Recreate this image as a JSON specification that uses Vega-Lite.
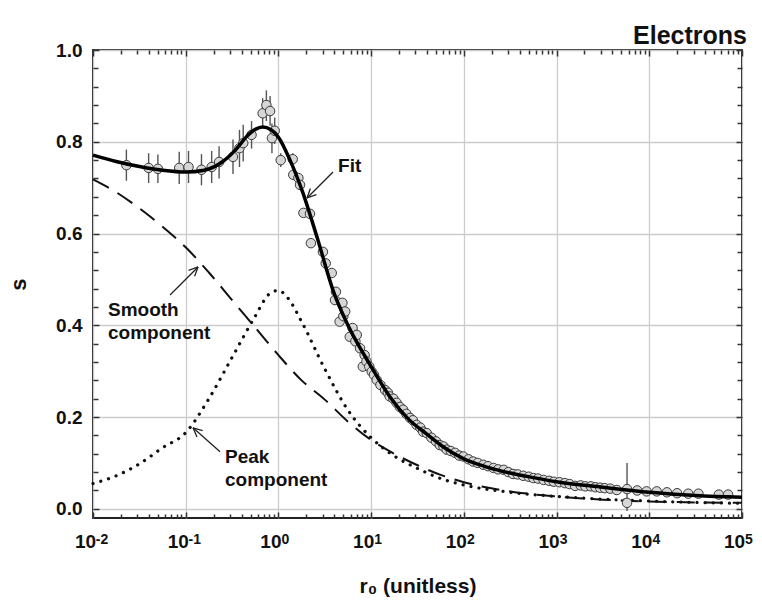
{
  "$schema": "https://vega.github.io/schema/vega-lite/v6.json",
  "width": 649,
  "height": 468,
  "autosize": {"type": "none"},
  "padding": {"left": 93, "top": 50, "right": 20, "bottom": 85},
  "background": "white",
  "title": {"text": "Electrons", "anchor": "end", "frame": "group", "orient": "top", "fontSize": 25, "fontWeight": "bold", "font": "Liberation Sans", "color": "#111", "baseline": "alphabetic", "offset": 7, "dx": 5, "dy": 35},
  "config": {
    "font": "Liberation Sans",
    "view": {"stroke": "#222", "strokeWidth": 2},
    "axis": {"domain": false, "labelFont": "Liberation Sans", "labelFontSize": 19, "labelFontWeight": "bold", "labelColor": "#111", "tickColor": "#333", "tickWidth": 1.5, "gridColor": "#cccccc", "gridWidth": 1.3, "titleFont": "Liberation Sans", "titleFontWeight": "bold", "titleColor": "#111"}
  },
  "datasets": {
    "fit": [
      {"r": 0.01, "s": 0.771}, {"r": 0.01778, "s": 0.757}, {"r": 0.03162, "s": 0.746}, {"r": 0.05623, "s": 0.738},
      {"r": 0.1, "s": 0.734}, {"r": 0.1585, "s": 0.738}, {"r": 0.2512, "s": 0.757}, {"r": 0.3548, "s": 0.785},
      {"r": 0.4571, "s": 0.812}, {"r": 0.5623, "s": 0.827}, {"r": 0.6761, "s": 0.832}, {"r": 0.8318, "s": 0.826},
      {"r": 1, "s": 0.81}, {"r": 1.334, "s": 0.76}, {"r": 1.841, "s": 0.688}, {"r": 2.6, "s": 0.593},
      {"r": 3.981, "s": 0.47}, {"r": 5.623, "s": 0.4}, {"r": 10, "s": 0.31}, {"r": 15.85, "s": 0.245},
      {"r": 25.12, "s": 0.196}, {"r": 39.81, "s": 0.163}, {"r": 63.1, "s": 0.132}, {"r": 100, "s": 0.109},
      {"r": 177.8, "s": 0.091}, {"r": 316.2, "s": 0.078}, {"r": 562.3, "s": 0.068}, {"r": 1000, "s": 0.059},
      {"r": 3162, "s": 0.047}, {"r": 10000, "s": 0.036}, {"r": 31623, "s": 0.029}, {"r": 100000, "s": 0.025}
    ],
    "smooth": [
      {"r": 0.01, "s": 0.718}, {"r": 0.01778, "s": 0.69}, {"r": 0.03162, "s": 0.655}, {"r": 0.05623, "s": 0.615},
      {"r": 0.1, "s": 0.57}, {"r": 0.1778, "s": 0.515}, {"r": 0.3162, "s": 0.455}, {"r": 0.5623, "s": 0.395},
      {"r": 1, "s": 0.335}, {"r": 1.778, "s": 0.28}, {"r": 3.162, "s": 0.238}, {"r": 5.623, "s": 0.19},
      {"r": 10, "s": 0.15}, {"r": 17.78, "s": 0.12}, {"r": 31.62, "s": 0.095}, {"r": 56.23, "s": 0.074},
      {"r": 100, "s": 0.058}, {"r": 316.2, "s": 0.038}, {"r": 1000, "s": 0.027}, {"r": 3162, "s": 0.02},
      {"r": 10000, "s": 0.016}, {"r": 31623, "s": 0.014}, {"r": 100000, "s": 0.013}
    ],
    "peak": [
      {"r": 0.01, "s": 0.055}, {"r": 0.01778, "s": 0.072}, {"r": 0.03162, "s": 0.098}, {"r": 0.05623, "s": 0.133},
      {"r": 0.1, "s": 0.166}, {"r": 0.1778, "s": 0.24}, {"r": 0.3162, "s": 0.33}, {"r": 0.5623, "s": 0.42},
      {"r": 0.7943, "s": 0.468}, {"r": 1, "s": 0.476}, {"r": 1.259, "s": 0.46}, {"r": 1.778, "s": 0.408},
      {"r": 3.162, "s": 0.305}, {"r": 5.623, "s": 0.215}, {"r": 10, "s": 0.155}, {"r": 17.78, "s": 0.115},
      {"r": 31.62, "s": 0.088}, {"r": 56.23, "s": 0.066}, {"r": 100, "s": 0.052}, {"r": 316.2, "s": 0.036},
      {"r": 1000, "s": 0.027}, {"r": 3162, "s": 0.021}, {"r": 10000, "s": 0.017}, {"r": 31623, "s": 0.014},
      {"r": 100000, "s": 0.012}
    ],
    "obs": [
      {"r": 0.02291, "s": 0.749}, {"r": 0.03981, "s": 0.743}, {"r": 0.05012, "s": 0.741}, {"r": 0.08511, "s": 0.743},
      {"r": 0.1072, "s": 0.745}, {"r": 0.1479, "s": 0.739}, {"r": 0.1905, "s": 0.745}, {"r": 0.2291, "s": 0.756},
      {"r": 0.3236, "s": 0.767}, {"r": 0.3802, "s": 0.786}, {"r": 0.4169, "s": 0.797}, {"r": 0.5129, "s": 0.815},
      {"r": 0.6761, "s": 0.862}, {"r": 0.7413, "s": 0.88}, {"r": 0.8128, "s": 0.867}, {"r": 0.8511, "s": 0.808},
      {"r": 0.912, "s": 0.824}, {"r": 1.059, "s": 0.76}, {"r": 1.426, "s": 0.762}, {"r": 1.445, "s": 0.728},
      {"r": 1.641, "s": 0.721}, {"r": 1.71, "s": 0.706}, {"r": 1.862, "s": 0.645}, {"r": 2.188, "s": 0.643},
      {"r": 2.239, "s": 0.579}, {"r": 3.02, "s": 0.56}, {"r": 3.236, "s": 0.535}, {"r": 3.758, "s": 0.514},
      {"r": 4.074, "s": 0.455}, {"r": 4.169, "s": 0.473}, {"r": 4.571, "s": 0.408}, {"r": 4.898, "s": 0.449},
      {"r": 5.012, "s": 0.42}, {"r": 5.248, "s": 0.43}, {"r": 5.888, "s": 0.375}, {"r": 6.31, "s": 0.394},
      {"r": 6.761, "s": 0.365}, {"r": 6.998, "s": 0.379}, {"r": 7.586, "s": 0.35}, {"r": 8.128, "s": 0.31},
      {"r": 8.511, "s": 0.335}, {"r": 8.913, "s": 0.321}, {"r": 9.55, "s": 0.31}, {"r": 10.14, "s": 0.299},
      {"r": 10.72, "s": 0.292}, {"r": 11.48, "s": 0.281}, {"r": 12.59, "s": 0.27}, {"r": 14.13, "s": 0.259},
      {"r": 15.14, "s": 0.253}, {"r": 15.85, "s": 0.245}, {"r": 17.38, "s": 0.24}, {"r": 18.84, "s": 0.231},
      {"r": 20.42, "s": 0.222}, {"r": 22.13, "s": 0.216}, {"r": 23.99, "s": 0.207}, {"r": 26.3, "s": 0.198},
      {"r": 28.18, "s": 0.193}, {"r": 30.9, "s": 0.183}, {"r": 33.88, "s": 0.177}, {"r": 36.31, "s": 0.168},
      {"r": 39.81, "s": 0.165}, {"r": 44.67, "s": 0.155}, {"r": 50.12, "s": 0.147}, {"r": 54.95, "s": 0.139},
      {"r": 60.26, "s": 0.136}, {"r": 65.31, "s": 0.129}, {"r": 72.44, "s": 0.126}, {"r": 80.35, "s": 0.122},
      {"r": 89.13, "s": 0.116}, {"r": 98.86, "s": 0.114}, {"r": 112.2, "s": 0.108}, {"r": 125.9, "s": 0.103},
      {"r": 141.3, "s": 0.1}, {"r": 162.2, "s": 0.096}, {"r": 182, "s": 0.093}, {"r": 208.9, "s": 0.089},
      {"r": 234.4, "s": 0.086}, {"r": 269.2, "s": 0.085}, {"r": 302, "s": 0.08}, {"r": 338.8, "s": 0.076},
      {"r": 380.2, "s": 0.075}, {"r": 436.5, "s": 0.072}, {"r": 501.2, "s": 0.07}, {"r": 562.3, "s": 0.067},
      {"r": 631, "s": 0.066}, {"r": 724.4, "s": 0.063}, {"r": 831.8, "s": 0.061}, {"r": 933.3, "s": 0.059},
      {"r": 1072, "s": 0.058}, {"r": 1230, "s": 0.056}, {"r": 1380, "s": 0.054}, {"r": 1585, "s": 0.05},
      {"r": 1820, "s": 0.051}, {"r": 2042, "s": 0.049}, {"r": 2344, "s": 0.049}, {"r": 2630, "s": 0.047},
      {"r": 2951, "s": 0.046}, {"r": 3311, "s": 0.045}, {"r": 3802, "s": 0.044}, {"r": 4467, "s": 0.041},
      {"r": 5754, "s": 0.043}, {"r": 5754, "s": 0.013}, {"r": 7413, "s": 0.04}, {"r": 9333, "s": 0.038},
      {"r": 12023, "s": 0.038}, {"r": 15488, "s": 0.036}, {"r": 19953, "s": 0.034}, {"r": 26303, "s": 0.033},
      {"r": 33884, "s": 0.033}, {"r": 56234, "s": 0.031}, {"r": 70795, "s": 0.031}
    ],
    "err": [
      {"r": 0.02291, "lo": 0.715, "hi": 0.783}, {"r": 0.03981, "lo": 0.71, "hi": 0.775}, {"r": 0.05012, "lo": 0.71, "hi": 0.772},
      {"r": 0.08511, "lo": 0.708, "hi": 0.778}, {"r": 0.1072, "lo": 0.71, "hi": 0.78}, {"r": 0.1479, "lo": 0.705, "hi": 0.773},
      {"r": 0.1905, "lo": 0.71, "hi": 0.78}, {"r": 0.2291, "lo": 0.72, "hi": 0.79}, {"r": 0.3236, "lo": 0.73, "hi": 0.805},
      {"r": 0.3802, "lo": 0.745, "hi": 0.826}, {"r": 0.4169, "lo": 0.757, "hi": 0.837}, {"r": 0.5129, "lo": 0.785, "hi": 0.845},
      {"r": 0.6761, "lo": 0.83, "hi": 0.895}, {"r": 0.7413, "lo": 0.845, "hi": 0.912}, {"r": 0.8128, "lo": 0.835, "hi": 0.9},
      {"r": 0.8511, "lo": 0.775, "hi": 0.84}, {"r": 0.912, "lo": 0.795, "hi": 0.853}, {"r": 1.059, "lo": 0.745, "hi": 0.775},
      {"r": 1.426, "lo": 0.75, "hi": 0.775}, {"r": 5754, "lo": -0.005, "hi": 0.1}
    ],
    "arrows": [
      {"r": 3.88, "s": 0.7342, "r2": 2.035, "s2": 0.6776}, {"r": 2.035, "s": 0.6776, "r2": 2.57, "s2": 0.685}, {"r": 2.035, "s": 0.6776, "r2": 2.21, "s2": 0.698},
      {"r": 0.0677, "s": 0.4662, "r2": 0.1358, "s2": 0.5272}, {"r": 0.1358, "s": 0.5272, "r2": 0.1247, "s2": 0.5068}, {"r": 0.1358, "s": 0.5272, "r2": 0.1075, "s2": 0.5198},
      {"r": 0.2344, "s": 0.1242, "r2": 0.1199, "s2": 0.1765}, {"r": 0.1199, "s": 0.1765, "r2": 0.1522, "s2": 0.1702}, {"r": 0.1199, "s": 0.1765, "r2": 0.1324, "s2": 0.1564}
    ],
    "labels": [
      {"r": 4.4, "s": 0.747, "t": "Fit"},
      {"r": 0.01452, "s": 0.4336, "t": "Smooth"},
      {"r": 0.01452, "s": 0.3836, "t": "component"},
      {"r": 0.2655, "s": 0.1133, "t": "Peak"},
      {"r": 0.2655, "s": 0.0633, "t": "component"}
    ]
  },
  "resolve": {"axis": {"x": "independent", "y": "independent"}},
  "layer": [
    {
      "data": {"name": "smooth"},
      "mark": {"type": "line", "color": "#111", "strokeWidth": 2, "strokeDash": [18, 10], "interpolate": "monotone"},
      "encoding": {
        "x": {"field": "r", "type": "quantitative", "scale": {"type": "log", "domain": [0.01, 100000], "nice": false},
              "axis": {"orient": "bottom", "values": [0.01, 0.1, 1, 10, 100, 1000, 10000, 100000], "grid": true, "tickSize": -6, "labelPadding": 20, "labelFlush": false, "labelOffset": -8,
                       "labelExpr": "'10'",
                       "title": "r₀ (unitless)", "titleFontSize": 21, "titlePadding": 24}},
        "y": {"field": "s", "type": "quantitative", "scale": {"domain": [-0.02, 1.0], "nice": false, "zero": false},
              "axis": {"orient": "left", "values": [0, 0.2, 0.4, 0.6, 0.8, 1.0], "format": ".1f", "grid": true, "tickSize": -6, "labelPadding": 17,
                       "title": "s", "titleFontSize": 22, "titlePadding": 25}}
      }
    },
    {
      "data": {"name": "peak"},
      "mark": {"type": "line", "color": "#111", "strokeWidth": 3.2, "strokeDash": [0.1, 8], "strokeCap": "round", "interpolate": "monotone"},
      "encoding": {
        "x": {"field": "r", "type": "quantitative",
              "axis": {"orient": "bottom", "values": [0.02,0.03,0.04,0.05,0.06,0.07,0.08,0.09,0.2,0.3,0.4,0.5,0.6,0.7,0.8,0.9,2,3,4,5,6,7,8,9,20,30,40,50,60,70,80,90,200,300,400,500,600,700,800,900,2000,3000,4000,5000,6000,7000,8000,9000,20000,30000,40000,50000,60000,70000,80000,90000],
                       "labels": false, "grid": false, "tickSize": -4, "title": null}},
        "y": {"field": "s", "type": "quantitative",
              "axis": {"orient": "left", "values": [0.04,0.08,0.12,0.16,0.24,0.28,0.32,0.36,0.44,0.48,0.52,0.56,0.64,0.68,0.72,0.76,0.84,0.88,0.92,0.96],
                       "labels": false, "grid": false, "tickSize": -5, "title": null}}
      }
    },
    {
      "data": {"name": "err"},
      "mark": {"type": "rule", "color": "#555", "strokeWidth": 1.4},
      "encoding": {
        "x": {"field": "r", "type": "quantitative",
              "axis": {"orient": "top", "values": [0.01, 0.1, 1, 10, 100, 1000, 10000, 100000], "labels": false, "grid": false, "tickSize": -6, "title": null}},
        "y": {"field": "lo", "type": "quantitative",
              "axis": {"orient": "right", "values": [0, 0.2, 0.4, 0.6, 0.8, 1.0], "labels": false, "grid": false, "tickSize": -6, "title": null}},
        "y2": {"field": "hi"}
      }
    },
    {
      "data": {"name": "obs"},
      "mark": {"type": "point", "shape": "circle", "filled": false, "fill": "#d6d6d6", "fillOpacity": 1, "stroke": "#3a3a3a", "strokeWidth": 1, "size": 90, "opacity": 1},
      "encoding": {
        "x": {"field": "r", "type": "quantitative",
              "axis": {"orient": "top", "values": [0.02,0.03,0.04,0.05,0.06,0.07,0.08,0.09,0.2,0.3,0.4,0.5,0.6,0.7,0.8,0.9,2,3,4,5,6,7,8,9,20,30,40,50,60,70,80,90,200,300,400,500,600,700,800,900,2000,3000,4000,5000,6000,7000,8000,9000,20000,30000,40000,50000,60000,70000,80000,90000],
                       "labels": false, "grid": false, "tickSize": -4, "title": null}},
        "y": {"field": "s", "type": "quantitative",
              "axis": {"orient": "right", "values": [0.04,0.08,0.12,0.16,0.24,0.28,0.32,0.36,0.44,0.48,0.52,0.56,0.64,0.68,0.72,0.76,0.84,0.88,0.92,0.96],
                       "labels": false, "grid": false, "tickSize": -5, "title": null}}
      }
    },
    {
      "data": {"name": "fit"},
      "mark": {"type": "line", "color": "#000", "strokeWidth": 3.5, "interpolate": "monotone"},
      "encoding": {
        "x": {"field": "r", "type": "quantitative",
              "axis": {"orient": "bottom", "values": [0.01, 0.1, 1, 10, 100, 1000, 10000, 100000], "grid": false, "ticks": false, "labelPadding": 14, "labelFlush": false,
                       "labelOffset": {"condition": {"test": "datum.value < 0.5", "value": 8.5}, "value": 6.5}, "labelFontSize": 14,
                       "labelExpr": "datum.value < 0.05 ? '-2' : datum.value < 0.5 ? '-1' : datum.value < 5 ? '0' : datum.value < 50 ? '1' : datum.value < 500 ? '2' : datum.value < 5000 ? '3' : datum.value < 50000 ? '4' : '5'",
                       "title": null}},
        "y": {"field": "s", "type": "quantitative", "axis": null}
      }
    },
    {
      "data": {"name": "arrows"},
      "mark": {"type": "rule", "color": "#222", "strokeWidth": 1.3},
      "encoding": {
        "x": {"field": "r", "type": "quantitative", "axis": null},
        "y": {"field": "s", "type": "quantitative", "axis": null},
        "x2": {"field": "r2"},
        "y2": {"field": "s2"}
      }
    },
    {
      "data": {"name": "labels"},
      "mark": {"type": "text", "align": "left", "baseline": "middle", "fontSize": 19, "fontWeight": "bold", "font": "Liberation Sans", "color": "#111"},
      "encoding": {
        "x": {"field": "r", "type": "quantitative", "axis": null},
        "y": {"field": "s", "type": "quantitative", "axis": null},
        "text": {"field": "t"}
      }
    }
  ]
}
